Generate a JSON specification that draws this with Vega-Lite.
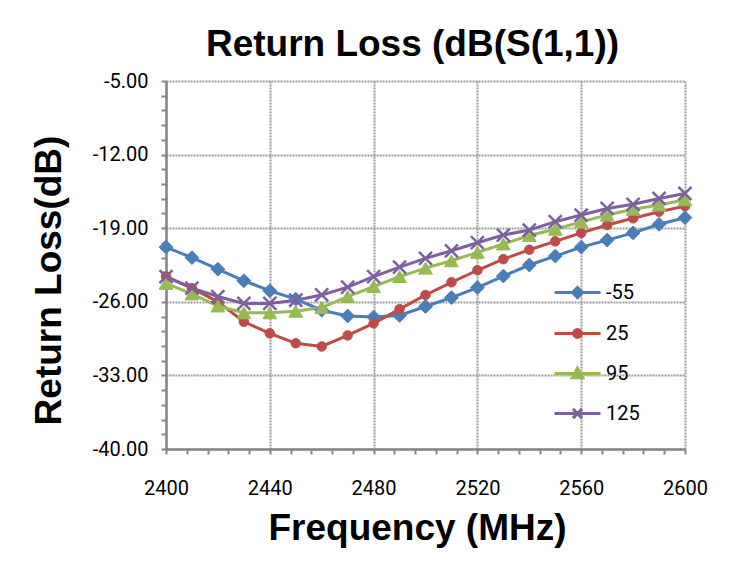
{
  "$schema": "https://vega.github.io/schema/vega-lite/v6.json",
  "autosize": {"type": "none"},
  "padding": {"left": 166, "top": 81, "right": 46, "bottom": 120},
  "width": 519,
  "height": 368,
  "background": "white",
  "title": {
    "text": "Return Loss (dB(S(1,1))",
    "font": "Liberation Sans",
    "fontSize": 37,
    "fontWeight": "bold",
    "color": "black",
    "anchor": "middle",
    "frame": "group",
    "baseline": "alphabetic",
    "offset": -22,
    "dx": -13
  },
  "data": {
    "values": [
      {"f": 2400, "t": "-55", "v": -20.8}, {"f": 2410, "t": "-55", "v": -21.8}, {"f": 2420, "t": "-55", "v": -22.9}, {"f": 2430, "t": "-55", "v": -24.0}, {"f": 2440, "t": "-55", "v": -24.95}, {"f": 2450, "t": "-55", "v": -25.75}, {"f": 2460, "t": "-55", "v": -26.8}, {"f": 2470, "t": "-55", "v": -27.35}, {"f": 2480, "t": "-55", "v": -27.45}, {"f": 2490, "t": "-55", "v": -27.3}, {"f": 2500, "t": "-55", "v": -26.45}, {"f": 2510, "t": "-55", "v": -25.6}, {"f": 2520, "t": "-55", "v": -24.65}, {"f": 2530, "t": "-55", "v": -23.55}, {"f": 2540, "t": "-55", "v": -22.5}, {"f": 2550, "t": "-55", "v": -21.65}, {"f": 2560, "t": "-55", "v": -20.8}, {"f": 2570, "t": "-55", "v": -20.13}, {"f": 2580, "t": "-55", "v": -19.45}, {"f": 2590, "t": "-55", "v": -18.63}, {"f": 2600, "t": "-55", "v": -18.0},
      {"f": 2400, "t": "25", "v": -23.6}, {"f": 2410, "t": "25", "v": -24.7}, {"f": 2420, "t": "25", "v": -26.0}, {"f": 2430, "t": "25", "v": -27.9}, {"f": 2440, "t": "25", "v": -29.0}, {"f": 2450, "t": "25", "v": -29.95}, {"f": 2460, "t": "25", "v": -30.25}, {"f": 2470, "t": "25", "v": -29.2}, {"f": 2480, "t": "25", "v": -28.05}, {"f": 2490, "t": "25", "v": -26.7}, {"f": 2500, "t": "25", "v": -25.35}, {"f": 2510, "t": "25", "v": -24.15}, {"f": 2520, "t": "25", "v": -23.0}, {"f": 2530, "t": "25", "v": -21.95}, {"f": 2540, "t": "25", "v": -21.05}, {"f": 2550, "t": "25", "v": -20.25}, {"f": 2560, "t": "25", "v": -19.45}, {"f": 2570, "t": "25", "v": -18.7}, {"f": 2580, "t": "25", "v": -18.06}, {"f": 2590, "t": "25", "v": -17.43}, {"f": 2600, "t": "25", "v": -16.9},
      {"f": 2400, "t": "95", "v": -24.25}, {"f": 2410, "t": "95", "v": -25.25}, {"f": 2420, "t": "95", "v": -26.4}, {"f": 2430, "t": "95", "v": -27.05}, {"f": 2440, "t": "95", "v": -27.05}, {"f": 2450, "t": "95", "v": -26.9}, {"f": 2460, "t": "95", "v": -26.55}, {"f": 2470, "t": "95", "v": -25.5}, {"f": 2480, "t": "95", "v": -24.55}, {"f": 2490, "t": "95", "v": -23.6}, {"f": 2500, "t": "95", "v": -22.8}, {"f": 2510, "t": "95", "v": -22.1}, {"f": 2520, "t": "95", "v": -21.3}, {"f": 2530, "t": "95", "v": -20.5}, {"f": 2540, "t": "95", "v": -19.7}, {"f": 2550, "t": "95", "v": -19.1}, {"f": 2560, "t": "95", "v": -18.4}, {"f": 2570, "t": "95", "v": -17.75}, {"f": 2580, "t": "95", "v": -17.2}, {"f": 2590, "t": "95", "v": -16.8}, {"f": 2600, "t": "95", "v": -16.3},
      {"f": 2400, "t": "125", "v": -23.6}, {"f": 2410, "t": "125", "v": -24.7}, {"f": 2420, "t": "125", "v": -25.5}, {"f": 2430, "t": "125", "v": -26.15}, {"f": 2440, "t": "125", "v": -26.15}, {"f": 2450, "t": "125", "v": -25.85}, {"f": 2460, "t": "125", "v": -25.35}, {"f": 2470, "t": "125", "v": -24.6}, {"f": 2480, "t": "125", "v": -23.6}, {"f": 2490, "t": "125", "v": -22.7}, {"f": 2500, "t": "125", "v": -21.87}, {"f": 2510, "t": "125", "v": -21.15}, {"f": 2520, "t": "125", "v": -20.38}, {"f": 2530, "t": "125", "v": -19.65}, {"f": 2540, "t": "125", "v": -19.18}, {"f": 2550, "t": "125", "v": -18.38}, {"f": 2560, "t": "125", "v": -17.75}, {"f": 2570, "t": "125", "v": -17.12}, {"f": 2580, "t": "125", "v": -16.73}, {"f": 2590, "t": "125", "v": -16.17}, {"f": 2600, "t": "125", "v": -15.7}
    ]
  },
  "encoding": {
    "x": {
      "field": "f",
      "type": "quantitative",
      "scale": {"domain": [2400, 2600], "nice": false, "zero": false},
      "axis": {
        "title": "Frequency (MHz)",
        "titleFont": "Liberation Sans",
        "titleFontSize": 37,
        "titleFontWeight": "bold",
        "titleColor": "black",
        "titleX": 251,
        "titleY": 90,
        "titleAlign": "center",
        "titleBaseline": "alphabetic",
        "values": [2400, 2408, 2416, 2424, 2432, 2440, 2448, 2456, 2464, 2472, 2480, 2488, 2496, 2504, 2512, 2520, 2528, 2536, 2544, 2552, 2560, 2568, 2576, 2584, 2592, 2600],
        "format": "d",
        "labelExpr": "datum.value % 40 === 0 ? datum.label : ''",
        "labelOverlap": false,
        "labelFlush": false,
        "labelFont": "Roboto",
        "labelFontSize": 20,
        "labelColor": "black",
        "labelPadding": 24,
        "tickSize": 5,
        "tickColor": "#868686",
        "tickWidth": 2,
        "domainColor": "#868686",
        "domainWidth": 2.5,
        "grid": true,
        "gridColor": "#9a9a9a",
        "gridWidth": 2,
        "gridDash": [2, 1],
        "gridOpacity": {"condition": {"test": "datum.value % 40 === 0", "value": 1}, "value": 0}
      }
    },
    "y": {
      "field": "v",
      "type": "quantitative",
      "scale": {"domain": [-40, -5], "nice": false, "zero": false},
      "axis": {
        "title": "Return Loss(dB)",
        "titleFont": "Liberation Sans",
        "titleFontSize": 37,
        "titleFontWeight": "bold",
        "titleColor": "black",
        "titleX": -106,
        "titleY": 199,
        "titleAngle": 270,
        "titleAlign": "center",
        "titleBaseline": "alphabetic",
        "values": [-5, -6.4, -7.8, -9.2, -10.6, -12, -13.4, -14.8, -16.2, -17.6, -19, -20.4, -21.8, -23.2, -24.6, -26, -27.4, -28.8, -30.2, -31.6, -33, -34.4, -35.8, -37.2, -38.6, -40],
        "labelExpr": "abs(round(datum.value*10)+50) % 70 === 0 ? '-' + format(abs(datum.value), '.2f') : ''",
        "labelOverlap": false,
        "labelFlush": false,
        "labelFont": "Roboto",
        "labelFontSize": 20,
        "labelColor": "black",
        "labelPadding": 13,
        "tickSize": 5,
        "tickColor": "#868686",
        "tickWidth": 2,
        "domainColor": "#868686",
        "domainWidth": 2.5,
        "grid": true,
        "gridColor": "#9a9a9a",
        "gridWidth": 2,
        "gridDash": [2, 1],
        "gridOpacity": {"condition": {"test": "abs(round(datum.value*10)+50) % 70 === 0", "value": 1}, "value": 0}
      }
    }
  },
  "layer": [
    {
      "mark": {"type": "line", "strokeWidth": 3},
      "encoding": {
        "color": {
          "field": "t",
          "type": "nominal",
          "scale": {"domain": ["-55", "25", "95", "125"], "range": ["#4A7EBB", "#BE4B48", "#98B954", "#7D60A0"]},
          "legend": {
            "title": null,
            "orient": "none",
            "legendX": 387,
            "legendY": 187,
            "padding": 0,
            "symbolSize": 2116,
            "symbolStrokeWidth": 3,
            "labelFont": "Roboto",
            "labelFontSize": 20,
            "labelColor": "black",
            "labelOffset": 4,
            "rowPadding": 5,
            "encode": {
              "symbols": {
                "update": {
                  "shape": {"signal": "datum.value === '-55' ? 'M-1,0L1,0M0,-0.22L0.22,0L0,0.22L-0.22,0Z' : datum.value === '25' ? 'M-1,0L1,0M-0.17,0A0.17,0.17,0,1,0,0.17,0A0.17,0.17,0,1,0,-0.17,0Z' : datum.value === '95' ? 'M-1,0L1,0M0,-0.23L0.23,0.19L-0.23,0.19Z' : 'M-1,0L1,0M-0.2,-0.2L0.2,0.2M-0.2,0.2L0.2,-0.2'"},
                  "fill": {"signal": "scale('color', datum.value)"},
                  "stroke": {"signal": "scale('color', datum.value)"},
                  "strokeWidth": {"value": 3},
                  "opacity": {"value": 1},
                  "fillOpacity": {"value": 1},
                  "strokeOpacity": {"value": 1}
                }
              }
            }
          }
        },
        "detail": {"field": "t"}
      }
    },
    {
      "transform": [{"filter": "datum.t === '-55'"}],
      "mark": {"type": "point", "shape": "diamond", "filled": true, "opacity": 1, "size": 190, "color": "#4A7EBB", "stroke": "#4A7EBB", "strokeWidth": 1}
    },
    {
      "transform": [{"filter": "datum.t === '25'"}],
      "mark": {"type": "point", "shape": "circle", "filled": true, "opacity": 1, "size": 90, "color": "#BE4B48", "stroke": "#BE4B48", "strokeWidth": 1}
    },
    {
      "transform": [{"filter": "datum.t === '95'"}],
      "mark": {"type": "point", "shape": "triangle-up", "filled": true, "opacity": 1, "size": 190, "color": "#98B954", "stroke": "#98B954", "strokeWidth": 1}
    },
    {
      "transform": [{"filter": "datum.t === '125'"}],
      "mark": {"type": "point", "shape": "M-1,-1L1,1M-1,1L1,-1", "filled": false, "opacity": 1, "size": 170, "color": "#7D60A0", "stroke": "#7D60A0", "strokeWidth": 2.5}
    }
  ],
  "config": {
    "view": {"stroke": null}
  }
}
